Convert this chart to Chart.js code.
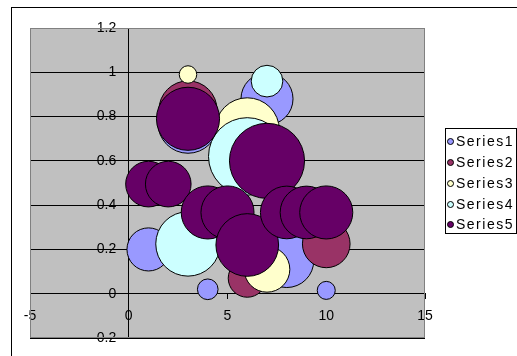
<!DOCTYPE html>
<html>
<head>
<meta charset="utf-8">
<script src="https://cdn.jsdelivr.net/npm/chart.js@4/dist/chart.umd.min.js"></script>
<style>
  html, body { margin: 0; padding: 0; background: #fff; }
  #wrap { position: relative; width: 517px; height: 356px; overflow: hidden; background: #fff; }
  #frame { position: absolute; left: 11px; top: 7px; width: 530px; height: 370px; border: 1px solid #000; box-sizing: border-box; }
  #chart { position: absolute; left: 0; top: 0; }
  #legend { position: absolute; left: 445px; top: 128px; width: 72px; height: 106px; border: 1px solid #000;
            box-sizing: border-box; background: #fff; padding-top: 2.3px;
            font: 14px "Liberation Sans", Arial, sans-serif; color: #000; letter-spacing: 1.5px; }
  .item { position: relative; height: 20.8px; line-height: 20.8px; padding-left: 10px; white-space: nowrap; }
  .dot { position: absolute; left: 1px; top: 6.9px; width: 7px; height: 7px; border-radius: 50%;
         border: 1px solid #000; box-sizing: border-box; }
</style>
</head>
<body>
<div id="wrap">
  <div id="frame"></div>
  <canvas id="chart" width="517" height="356"></canvas>
  <div id="legend"></div>
</div>
<script>
// Series data: x position, y value and bubble size for every point
const seriesNames = ['Series1', 'Series2', 'Series3', 'Series4', 'Series5'];
const seriesColors = ['#9999FF', '#993366', '#FFFFCC', '#CCFFFF', '#660066'];

const s1X = [1, 3, 4, 7, 8, 10];
const s1Y = [0.2, 0.77, 0.02, 0.88, 0.15, 0.015];
const s1Size = [3.09, 6.01, 0.71, 4.51, 4.87, 0.54];

const s2X = [3, 6, 10];
const s2Y = [0.83, 0.07, 0.225];
const s2Size = [5.62, 2.41, 3.78];

const s3X = [3, 6, 7];
const s3Y = [0.99, 0.74, 0.11];
const s3Size = [0.51, 6.84, 3.47];

const s4X = [3, 6, 7];
const s4Y = [0.225, 0.62, 0.96];
const s4Size = [6.92, 10, 1.67];

const s5X = [1, 2, 3, 4, 5, 6, 7, 8, 9, 10];
const s5Y = [0.495, 0.495, 0.79, 0.367, 0.367, 0.22, 0.6, 0.367, 0.367, 0.367];
const s5Size = [3.47, 3.47, 6.63, 4.69, 4.69, 6.54, 9.39, 4.62, 4.62, 4.69];

// Axis ranges and tick steps
const xMin = -5, xMax = 15, xStep = 5;
const yMin = -0.2, yMax = 1.2, yStep = 0.2;

const seriesX = [s1X, s2X, s3X, s4X, s5X];
const seriesY = [s1Y, s2Y, s3Y, s4Y, s5Y];
const seriesSize = [s1Size, s2Size, s3Size, s4Size, s5Size];

// Plot layout
const W = 517, H = 356;
const PAD = { left: 30, top: 28, right: 92, bottom: 18 };
const plotW = W - PAD.left - PAD.right;
const plotH = H - PAD.top - PAD.bottom;

// Largest bubble gets a diameter of a quarter of the plot's smaller side; area scales with size
const maxSize = Math.max(...seriesSize.flat());
const rMax = 0.125 * Math.min(plotW, plotH);
const radiusFor = size => rMax * Math.sqrt(size / maxSize);

const datasets = seriesNames.map((name, i) => ({
  label: name,
  data: seriesX[i].map((x, j) => ({ x: x, y: seriesY[i][j], r: radiusFor(seriesSize[i][j]) })),
  backgroundColor: seriesColors[i],
  borderColor: '#000',
  borderWidth: 1,
  hoverBorderWidth: 1,
  hoverRadius: 0,
  order: seriesNames.length - i   // later series paint over earlier ones
}));

// Linear axis that sits on the other axis' zero line, with its labels kept clear of the tick marks
class CrossingLinearScale extends Chart.LinearScale {
  _computeLabelItems(chartArea) {
    const items = super._computeLabelItems(chartArea);
    if (this.axis === 'y') {
      const shift = this.options.grid.tickLength + this.options.ticks.padding;
      items.forEach(it => { it.options.translation[0] -= shift; });
    }
    return items;
  }
}
CrossingLinearScale.id = 'crossingLinear';
Chart.register(CrossingLinearScale);

const noOverhang = scale => {
  scale.paddingLeft = 0; scale.paddingRight = 0;
  scale.paddingTop = 0; scale.paddingBottom = 0;
};

const plotArea = {
  id: 'plotArea',
  beforeDraw(chart) {
    const { ctx, chartArea: a } = chart;
    ctx.save();
    ctx.fillStyle = '#C0C0C0';
    ctx.fillRect(a.left, a.top, a.right - a.left, a.bottom - a.top);
    ctx.restore();
  },
  beforeDatasetsDraw(chart) {
    const { ctx, chartArea: a } = chart;
    ctx.save();
    ctx.strokeStyle = '#808080';
    ctx.lineWidth = 1;
    ctx.strokeRect(Math.round(a.left) + 0.5, Math.round(a.top) + 0.5,
                   Math.round(a.right - a.left) - 1, Math.round(a.bottom - a.top) - 1);
    ctx.restore();
  }
};

const tickFont = { family: '"Liberation Sans", Arial, sans-serif', size: 14 };
const plainNumber = v => String(Number(v.toFixed(2)));

new Chart(document.getElementById('chart'), {
  type: 'bubble',
  data: { datasets },
  options: {
    responsive: false,
    animation: false,
    devicePixelRatio: 1,
    layout: { padding: PAD, autoPadding: false },
    plugins: { legend: { display: false }, tooltip: { enabled: false } },
    events: [],
    scales: {
      x: {
        type: 'crossingLinear', min: xMin, max: xMax, position: { y: 0 },
        afterFit: noOverhang,
        ticks: { stepSize: xStep, color: '#000', font: tickFont, padding: 9, maxRotation: 0, callback: plainNumber },
        grid: { display: true, drawOnChartArea: false, drawTicks: true, tickLength: 5, color: '#000' },
        border: { display: true, color: '#000', width: 1 }
      },
      y: {
        type: 'crossingLinear', min: yMin, max: yMax, position: { x: 0 },
        afterFit: noOverhang,
        ticks: { stepSize: yStep, color: '#000', font: tickFont, padding: 7.5, callback: plainNumber },
        grid: { display: true, drawOnChartArea: true, drawTicks: true, tickLength: 5, color: '#000' },
        border: { display: true, color: '#000', width: 1 }
      }
    }
  },
  plugins: [plotArea]
});

// Legend box
const legend = document.getElementById('legend');
seriesNames.forEach((name, i) => {
  const item = document.createElement('div');
  item.className = 'item';
  const dot = document.createElement('span');
  dot.className = 'dot';
  dot.style.background = seriesColors[i];
  item.appendChild(dot);
  item.appendChild(document.createTextNode(name));
  legend.appendChild(item);
});
</script>
</body>
</html>
